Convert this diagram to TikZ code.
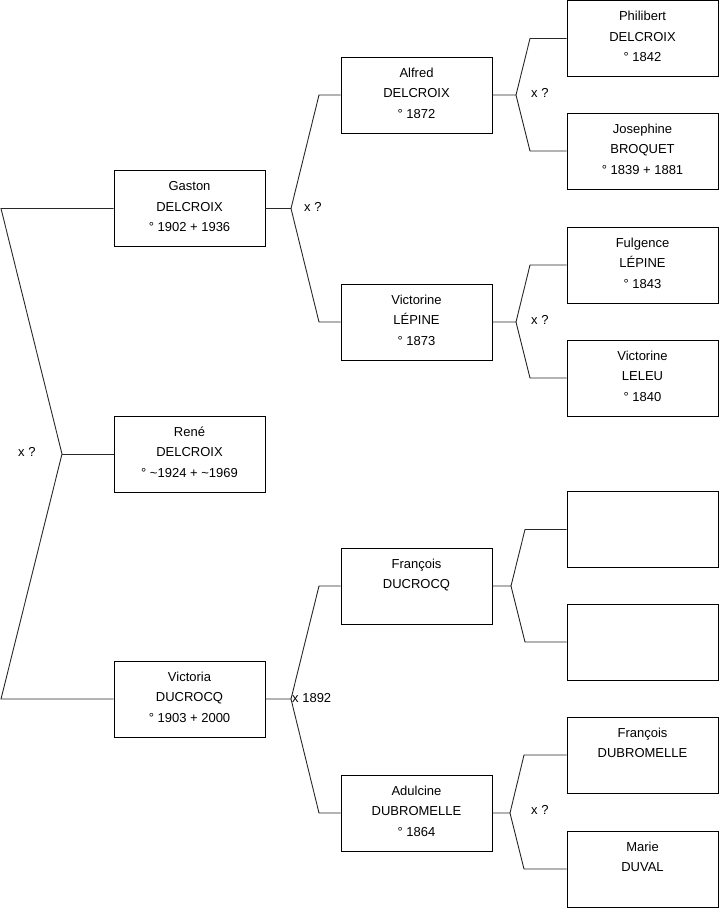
\documentclass[tikz,border=0pt]{standalone}
\usepackage{fontspec}
\setmainfont{Liberation Sans}
\newcommand\perstext[1]{\begin{minipage}[t][76pt][t]{151pt}\centering\fontsize{13}{20.5}\selectfont\rule{0pt}{20pt}#1\end{minipage}}
\begin{document}
\begin{tikzpicture}[x=1pt,y=-1pt,
  person/.style={draw=black,line width=0.9pt,rectangle,inner sep=0pt,minimum width=151pt,minimum height=76pt,fill=white},
  lbl/.style={inner sep=0pt,anchor=west,font=\fontsize{13}{15}\selectfont},
  link/.style={draw={rgb,255:red,40;green,40;blue,40},line width=0.9pt}]
\useasboundingbox (0,0) rectangle (719,908);
% generation 1
\node[person] (gaston) at (189.5,208.5) {\perstext{Gaston\\DELCROIX\\° 1902 + 1936}};
\node[person] (rene) at (189.5,454) {\perstext{René\\DELCROIX\\° \textasciitilde1924 + \textasciitilde1969}};
\node[person] (victoria) at (189.5,699) {\perstext{Victoria\\DUCROCQ\\° 1903 + 2000}};
% generation 2
\node[person] (alfred) at (416.5,95) {\perstext{Alfred\\DELCROIX\\° 1872}};
\node[person] (victorine) at (416.5,322) {\perstext{Victorine\\LÉPINE\\° 1873}};
\node[person] (francois) at (416.5,586) {\perstext{François\\DUCROCQ}};
\node[person] (adulcine) at (416.5,813) {\perstext{Adulcine\\DUBROMELLE\\° 1864}};
% generation 3
\node[person] (philibert) at (642.5,38.5) {\perstext{Philibert\\DELCROIX\\° 1842}};
\node[person] (josephine) at (642.5,151) {\perstext{Josephine\\BROQUET\\° 1839 + 1881}};
\node[person] (fulgence) at (642.5,265) {\perstext{Fulgence\\LÉPINE\\° 1843}};
\node[person] (leleu) at (642.5,378) {\perstext{Victorine\\LELEU\\° 1840}};
\node[person] (emptyA) at (642.5,529.5) {\perstext{}};
\node[person] (emptyB) at (642.5,642) {\perstext{}};
\node[person] (francoisD) at (642.5,755) {\perstext{François\\DUBROMELLE}};
\node[person] (marie) at (642.5,869) {\perstext{Marie\\DUVAL}};
% connectors: root
\coordinate (r0) at (1,208.5);
\coordinate (f0) at (62,454);
\coordinate (r1) at (1,699);
\draw[link] (gaston.west) -- (r0) -- (f0) -- (r1) -- (victoria.west);
\draw[link] (f0) -- (rene.west);
% Gaston
\coordinate (f1) at (291,208.5);
\coordinate (t1) at (319,95);
\coordinate (u1) at (319,322);
\draw[link] (gaston.east) -- (f1) -- (t1) -- (alfred.west);
\draw[link] (f1) -- (u1) -- (victorine.west);
% Victoria
\coordinate (f2) at (291,699);
\coordinate (t2) at (319,586);
\coordinate (u2) at (319,813);
\draw[link] (victoria.east) -- (f2) -- (t2) -- (francois.west);
\draw[link] (f2) -- (u2) -- (adulcine.west);
% Alfred
\coordinate (f3) at (516,95);
\coordinate (t3) at (530,38.5);
\coordinate (u3) at (530,151);
\draw[link] (alfred.east) -- (f3) -- (t3) -- (philibert.west);
\draw[link] (f3) -- (u3) -- (josephine.west);
% Victorine
\coordinate (f4) at (516,322);
\coordinate (t4) at (530,265);
\coordinate (u4) at (530,378);
\draw[link] (victorine.east) -- (f4) -- (t4) -- (fulgence.west);
\draw[link] (f4) -- (u4) -- (leleu.west);
% François
\coordinate (f5) at (511,586);
\coordinate (t5) at (525,529.5);
\coordinate (u5) at (525,642);
\draw[link] (francois.east) -- (f5) -- (t5) -- (emptyA.west);
\draw[link] (f5) -- (u5) -- (emptyB.west);
% Adulcine
\coordinate (f6) at (510,813);
\coordinate (t6) at (524,755);
\coordinate (u6) at (524,869);
\draw[link] (adulcine.east) -- (f6) -- (t6) -- (francoisD.west);
\draw[link] (f6) -- (u6) -- (marie.west);
% marriage labels
\node[lbl] (m0) at (18,452) {x ?};
\node[lbl] (m1) at (304,207) {x ?};
\node[lbl] (m2) at (292,698) {x 1892};
\node[lbl] (m3) at (531,93) {x ?};
\node[lbl] (m4) at (531,320) {x ?};
\node[lbl] (m6) at (531,810) {x ?};
\end{tikzpicture}
\end{document}
